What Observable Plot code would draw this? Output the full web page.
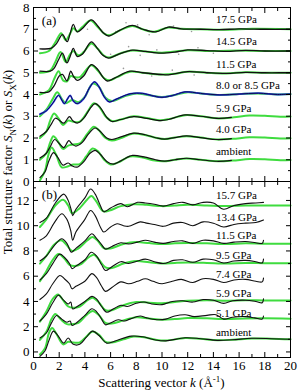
<!DOCTYPE html>
<html><head><meta charset="utf-8">
<script src="https://cdn.jsdelivr.net/npm/d3@7"></script>
<script src="https://cdn.jsdelivr.net/npm/@observablehq/plot@0.6"></script>
<style>
body{margin:0;background:#fff;}
#wrap{position:relative;width:298px;height:391px;font-family:"Liberation Serif",serif;overflow:hidden;background:#fff}
#wrap svg{position:absolute;left:0;overflow:visible}
#wrap svg, #wrap svg text{font-family:"Liberation Serif",serif !important}
#ytitle{position:absolute;left:-142px;top:154px;width:300px;height:16px;line-height:16px;text-align:center;font-size:13px;transform:rotate(-90deg);transform-origin:50% 50%;white-space:nowrap}
#xtitle{position:absolute;left:33px;top:375px;width:257px;line-height:15px;text-align:center;font-size:13px;white-space:nowrap}
sub,sup{font-size:9px;line-height:0}
</style></head><body><div id="wrap"><div id="ytitle">Total structure factor <i>S</i><sub>N</sub>(<i>k</i>) or <i>S</i><sub>X</sub>(<i>k</i>)</div><div id="xtitle">Scattering vector <i>k</i> (Å<sup>-1</sup>)</div></div>
<script>
// ---------- panel (a) data: [k, S(k)+offset] ----------
const a_amb_green = [[0.5,0.05],[0.9,0.5],[1.15,1.2],[1.4,1.56],[1.75,1.25],[2.2,0.65],[2.7,0.7],[3.1,0.78],[3.6,0.8],[4.1,1.15],[4.6,1.52],[5.0,1.4],[5.5,1.0],[6.0,0.78],[6.6,0.88],[7.5,1.15],[8.4,1.12],[9.3,0.98],[10.1,0.93],[11.0,1.0],[11.9,1.06],[13.0,1.0],[14.3,0.93],[15.5,0.96],[16.8,1.03],[18.0,1.02],[19.2,0.98],[20,0.99]];
const a_amb_black = [[0.5,0.18],[0.9,0.45],[1.2,0.95],[1.55,1.33],[1.9,1.1],[2.3,0.75],[2.7,0.85],[3.0,0.72],[3.4,0.66],[3.9,0.9],[4.4,1.3],[4.8,1.43],[5.2,1.25],[5.7,0.92],[6.2,0.8],[6.8,0.95],[7.7,1.2],[8.6,1.13],[9.5,1.0],[10.2,0.94],[11.0,1.0],[11.9,1.07],[13.0,1.0],[14.3,0.93],[15.4,0.97]];
const a_40_green = [[0.5,1.0],[1.0,1.3],[1.3,1.8],[1.55,2.08],[1.9,1.85],[2.3,1.5],[2.7,1.65],[3.1,1.7],[3.6,1.75],[4.2,2.2],[4.7,2.52],[5.1,2.35],[5.6,2.0],[6.1,1.88],[6.8,2.0],[7.7,2.2],[8.6,2.15],[9.6,2.0],[10.2,1.95],[11.0,2.02],[11.9,2.08],[13.0,2.02],[14.3,1.93],[15.5,1.96],[16.8,2.03],[18.0,2.02],[19.2,1.98],[20,1.99]];
const a_40_black = [[0.5,1.08],[1.0,1.3],[1.3,1.6],[1.65,1.93],[2.0,1.75],[2.35,1.56],[2.75,1.88],[3.0,1.72],[3.3,1.63],[3.8,1.8],[4.3,2.2],[4.8,2.46],[5.2,2.3],[5.7,2.0],[6.1,1.93],[6.8,2.05],[7.8,2.22],[8.7,2.15],[9.6,2.0],[10.2,1.95],[11.0,2.02],[11.9,2.1],[13.0,2.02],[14.3,1.93],[15.4,1.97]];
const a_59_green = [[0.5,2.0],[1.0,2.3],[1.3,2.8],[1.6,3.13],[1.95,2.9],[2.3,2.6],[2.7,2.8],[3.1,2.75],[3.6,2.75],[4.2,3.2],[4.7,3.6],[5.1,3.45],[5.6,3.0],[6.1,2.78],[6.8,2.85],[7.8,3.0],[8.8,2.92],[9.9,2.82],[10.6,2.88],[11.8,3.05],[13.0,3.0],[14.4,2.9],[15.6,2.95],[16.8,3.03],[18.0,3.02],[19.2,2.98],[20,2.99]];
const a_59_black = [[0.5,2.08],[1.0,2.3],[1.35,2.6],[1.7,2.91],[2.0,2.82],[2.35,2.68],[2.8,2.98],[3.05,2.8],[3.4,2.68],[3.9,2.9],[4.4,3.35],[4.8,3.58],[5.2,3.4],[5.7,2.95],[6.1,2.76],[6.8,2.85],[7.8,2.98],[8.8,2.9],[9.9,2.8],[10.5,2.85],[11.8,3.06],[13.0,3.0],[14.4,2.9],[15.4,2.95]];
const a_80_green = [[0.5,3.0],[1.0,3.3],[1.5,3.8],[1.85,4.1],[2.2,3.8],[2.5,3.6],[3.0,3.75],[3.5,3.65],[4.0,3.9],[4.6,4.5],[5.1,4.35],[5.6,3.85],[6.1,3.7],[7.0,3.9],[8.0,4.05],[9.0,3.97],[10.0,3.88],[11.0,3.98],[12,4.1],[13,4.05],[14.5,3.98],[16,4.02],[17.5,4.05],[19,4.0],[20,4.02]];
const a_80_blue = [[0.5,3.1],[1.0,3.25],[1.5,3.6],[1.95,3.96],[2.2,3.75],[2.4,3.58],[2.65,3.8],[2.85,3.96],[3.1,3.7],[3.4,3.58],[3.9,3.8],[4.35,4.3],[4.75,4.58],[5.1,4.35],[5.5,3.9],[5.9,3.66],[6.5,3.8],[7.5,4.03],[8.5,4.05],[9.2,3.95],[10.0,3.87],[10.8,3.95],[11.8,4.12],[13.0,4.05],[14.5,3.98],[16.0,4.02],[17.5,4.06],[19.0,4.0],[20,4.02]];
const a_115_green = [[0.5,4.0],[1.2,4.2],[1.6,4.7],[1.95,5.07],[2.3,4.65],[2.6,4.6],[2.9,4.85],[3.2,4.8],[3.6,4.8],[4.5,5.35],[5.0,5.1],[5.5,4.75],[5.9,4.65],[6.5,4.8],[7.5,5.05],[8.5,5.0],[9.9,4.92],[11,4.95],[12.0,5.05],[13.5,5.0],[15,4.97],[16.5,5.02],[18,5.0],[20,5.0]];
const a_115_black = [[0.5,4.1],[1.2,4.12],[1.6,4.4],[2.0,4.85],[2.25,4.92],[2.6,4.63],[2.9,5.07],[3.1,4.85],[3.4,4.65],[3.9,4.85],[4.5,5.37],[5.0,5.15],[5.4,4.8],[5.75,4.62],[6.3,4.75],[7.5,5.07],[8.5,5.0],[9.9,4.92],[10.5,4.9],[12.0,5.05],[13.5,5.0],[15.0,4.97],[16.5,5.02],[18.0,5.0],[19.5,5.0],[20,5.0]];
const a_145_green = [[0.5,5.0],[1.3,5.1],[1.7,5.5],[2.1,5.95],[2.5,5.5],[2.85,5.85],[3.1,6.0],[3.5,5.8],[3.9,5.95],[4.5,6.35],[5.0,6.1],[5.5,5.78],[5.9,5.7],[6.8,5.9],[7.7,6.02],[8.7,5.98],[10,5.92],[12,6.03],[14,6.0],[16,6.02],[18,6.0],[20,6.0]];
const a_145_black = [[0.5,5.07],[1.3,5.07],[1.6,5.2],[1.95,5.6],[2.25,5.9],[2.6,5.45],[2.85,5.75],[3.1,6.12],[3.4,5.75],[3.8,5.85],[4.5,6.42],[5.0,6.1],[5.4,5.8],[5.85,5.67],[6.6,5.85],[7.7,6.04],[8.7,5.98],[9.9,5.9],[11,5.95],[12.0,6.05],[13.5,6.02],[15,5.98],[16.5,6.03],[18,6.0],[20,6.0]];
const a_175_green = [[0.5,5.9],[1.2,6.0],[1.7,6.4],[2.15,6.82],[2.5,6.5],[2.85,6.8],[3.1,7.05],[3.4,6.9],[3.8,7.1],[4.45,7.4],[5.0,7.1],[5.5,6.8],[5.9,6.72],[6.8,6.97],[7.7,7.15],[8.5,7.0],[9.3,6.88],[10.5,7.08],[11.5,7.02],[13,7.0],[15,6.98],[17,7.02],[20,7.0]];
const a_175_black = [[0.5,6.1],[1.4,6.13],[1.8,6.35],[2.25,6.75],[2.62,6.43],[2.85,6.8],[3.1,7.22],[3.4,6.88],[3.8,7.03],[4.5,7.43],[5.0,7.15],[5.4,6.85],[5.85,6.69],[6.7,6.95],[7.7,7.18],[8.5,7.0],[9.5,6.88],[10.5,7.1],[11.5,7.02],[13,7.0],[14.5,6.98],[16,7.02],[18,7.0],[20,7.0]];
const a_grey_pts = [[5.3,6.95],[6.4,6.9],[7.2,7.3],[8.1,7.2],[9.0,6.75],[10.9,7.15],[12.3,6.9],[4.2,7.0],[6.0,5.85],[7.4,6.2],[8.3,5.8],[9.6,6.05],[11.3,5.85],[12.8,6.15],[14.0,5.9],[7.0,5.2],[9.2,4.85],[10.8,5.12],[12.5,4.9]];

// ---------- panel (b) data ----------
const b_amb_green = [[0.5,-0.2],[0.9,0.3],[1.2,1.5],[1.45,1.9],[1.8,1.4],[2.3,0.6],[2.7,0.8],[3.1,0.75],[3.6,0.75],[4.1,1.2],[4.6,1.62],[5.1,1.35],[5.6,0.8],[6.1,0.75],[7.0,1.0],[7.8,1.22],[8.7,1.15],[9.6,0.95],[10.3,0.9],[11.8,1.1],[13,1.04],[14.3,0.93],[15.5,0.97],[17,1.07],[18.5,1.05],[20,1.0]];
const b_amb_black = [[0.5,-0.35],[0.9,0.1],[1.2,0.9],[1.55,1.65],[1.9,1.3],[2.35,0.7],[2.7,1.1],[3.1,0.6],[3.6,0.6],[4.1,1.15],[4.6,1.65],[5.1,1.3],[5.7,0.7],[6.3,0.85],[7.6,1.25],[8.5,1.2],[9.5,0.95],[10.3,0.88],[11.8,1.12],[13,1.05],[14.3,0.92],[15.5,0.97],[17,1.08],[18.5,1.05],[20,1.0]];
const b_51_green = [[0.5,0.95],[1.0,1.6],[1.4,2.6],[1.7,3.0],[2.1,2.6],[2.6,2.2],[3.0,2.2],[3.5,2.3],[4.1,2.9],[4.6,3.25],[5.1,2.9],[5.6,2.3],[6.1,2.25],[7.0,2.5],[8.0,2.75],[9.0,2.65],[10,2.55],[11,2.6],[12,2.68],[13.5,2.66],[15,2.6],[16.5,2.65],[18,2.66],[20,2.63]];
const b_51_black = [[0.5,1.1],[1.0,1.5],[1.4,2.3],[1.8,2.89],[2.2,2.6],[2.6,2.35],[2.85,2.45],[3.0,2.1],[3.4,2.35],[4.0,2.9],[4.55,3.42],[4.9,3.2],[5.3,2.6],[5.6,2.15],[6.0,2.3],[6.6,2.55],[7.1,2.45],[7.5,2.6],[8.3,2.85],[8.8,2.7],[9.6,2.55],[10.3,2.6],[11,2.85],[11.8,2.95],[12.5,2.8],[13.5,2.9],[14.2,2.95],[14.8,2.6],[15.5,2.75],[16.5,2.8],[17.2,2.7],[17.8,2.6],[17.9,2.85]];
const b_59_green = [[0.5,2.4],[1.0,3.2],[1.5,4.2],[1.9,4.55],[2.3,4.1],[2.7,3.6],[3.1,3.5],[3.6,3.6],[4.2,4.1],[4.6,4.3],[5.1,3.9],[5.6,3.3],[6.1,3.3],[7.0,3.7],[8.0,3.95],[9.0,3.9],[10,3.85],[11,3.95],[12,4.05],[13.5,4.1],[15,4.06],[16.5,4.1],[18,4.08],[20,4.08]];
const b_59_black = [[0.5,2.45],[1.0,3.0],[1.5,3.9],[1.95,4.5],[2.3,4.15],[2.7,3.8],[2.9,3.95],[3.05,3.4],[3.4,3.6],[4.0,4.0],[4.55,4.4],[4.9,4.2],[5.3,3.6],[5.7,3.15],[6.2,3.4],[6.8,3.7],[7.3,3.6],[8.0,3.85],[8.6,3.95],[9.2,3.8],[10,3.75],[10.8,4.0],[11.6,4.05],[12.4,3.95],[13.2,4.15],[14.0,4.1],[14.8,3.85],[15.5,4.05],[16.5,4.1],[17.3,4.0],[17.8,3.9],[17.9,4.2]];
const b_74_black = [[0.5,4.15],[1.0,4.6],[1.5,5.4],[2.05,6.06],[2.4,5.8],[2.8,5.4],[3.0,5.0],[3.3,5.2],[4.0,5.6],[4.55,6.2],[4.9,5.9],[5.3,5.2],[5.6,4.8],[6.1,5.1],[6.8,5.55],[7.4,5.4],[8.1,5.6],[8.7,5.8],[9.3,5.6],[10,5.4],[10.8,5.6],[11.5,5.75],[12.4,5.5],[13.2,5.8],[14,5.75],[14.8,5.5],[15.6,5.7],[16.5,5.75],[17.3,5.6],[17.8,5.55],[17.9,5.85]];
const b_95_green = [[0.5,5.6],[1.0,6.4],[1.5,7.3],[1.95,7.75],[2.4,7.4],[2.8,6.9],[3.2,6.8],[3.7,6.95],[4.3,7.5],[4.7,7.7],[5.1,7.3],[5.6,6.7],[6.1,6.65],[7.0,7.0],[8.0,7.2],[9.0,7.1],[10,7.0],[11,7.05],[12,7.08],[13.5,7.05],[15,7.0],[16.5,7.05],[18,7.03],[20,7.03]];
const b_95_black = [[0.5,5.7],[1.0,6.2],[1.5,7.0],[2.05,7.75],[2.4,7.5],[2.8,7.0],[3.0,6.6],[3.3,6.8],[4.0,7.3],[4.5,7.9],[4.9,7.6],[5.3,6.9],[5.6,6.45],[6.1,6.75],[6.8,7.15],[7.4,7.0],[8.1,7.2],[8.7,7.35],[9.4,7.15],[10.1,7.0],[10.9,7.25],[11.6,7.3],[12.4,7.1],[13.2,7.35],[14,7.3],[14.8,7.05],[15.6,7.2],[16.5,7.25],[17.3,7.15],[17.8,7.05],[17.9,7.35]];
const b_115_green = [[0.5,7.0],[1.0,7.6],[1.6,8.5],[2.15,8.85],[2.6,8.45],[3.0,8.0],[3.5,8.2],[4.2,8.85],[4.6,9.1],[5.0,8.8],[5.5,8.2],[6.0,8.2],[7.0,8.55],[8.0,8.7],[9.0,8.62],[10,8.55],[11,8.6],[12,8.62],[13.5,8.6],[15,8.55],[16.5,8.6],[18,8.57],[20,8.57]];
const b_115_black = [[0.5,7.2],[1.0,7.6],[1.6,8.4],[2.2,8.97],[2.6,8.6],[2.95,7.9],[3.3,8.2],[4.0,8.8],[4.55,9.36],[4.9,9.0],[5.3,8.5],[5.6,8.15],[6.1,8.35],[6.8,8.65],[7.4,8.55],[8.1,8.7],[8.7,8.85],[9.4,8.7],[10.1,8.6],[10.9,8.75],[11.6,8.8],[12.4,8.6],[13.2,8.85],[14,8.8],[14.8,8.6],[15.6,8.7],[16.5,8.75],[17.3,8.65],[17.8,8.6],[17.9,8.85]];
const b_134_black = [[0.5,8.85],[1.0,9.2],[1.6,10.2],[2.2,10.95],[2.6,10.5],[2.9,9.6],[3.05,8.85],[3.3,9.5],[4.0,10.5],[4.45,11.2],[4.8,10.8],[5.2,9.9],[5.47,9.5],[6.0,9.9],[6.5,10.15],[7.0,10.0],[7.4,9.95],[8.3,10.3],[8.8,10.2],[9.4,10.1],[10.1,9.95],[10.9,10.2],[11.6,10.25],[12.4,10.0],[13.2,10.3],[14,10.2],[14.8,9.9],[15.6,10.1],[16.5,10.2],[17.3,10.25],[17.9,10.45]];
const b_157_green = [[0.5,9.9],[1.0,10.5],[1.7,11.6],[2.3,12.05],[2.7,11.6],[3.0,11.0],[3.5,11.3],[4.2,12.1],[4.5,12.35],[4.9,11.9],[5.4,11.15],[5.9,11.2],[6.8,11.55],[7.8,11.7],[8.8,11.65],[10,11.55],[11,11.6],[12,11.65],[13.5,11.6],[15,11.55],[16.5,11.6],[18,11.6],[20,11.6]];
const b_157_black = [[0.5,10.25],[1.0,10.6],[1.7,11.8],[2.35,12.5],[2.7,12.0],[2.95,11.2],[3.05,10.8],[3.3,11.3],[4.0,12.2],[4.45,12.9],[4.8,12.5],[5.2,11.6],[5.47,11.1],[6.0,11.4],[6.8,11.75],[7.3,11.5],[8.1,11.85],[8.7,11.8],[9.4,11.7],[10.1,11.55],[10.9,11.75],[11.6,11.85],[12.4,11.65],[13.2,11.85],[14,11.8],[14.8,11.3],[15.6,11.6],[16.5,11.75],[17.3,11.8],[17.9,11.85]];

// ---------- labels ----------
const labelsA = ["17.5 GPa","14.5 GPa","11.5 GPa","8.0 or 8.5 GPa","5.9 GPa","4.0 GPa","ambient"];
const labelYA = [7.45,6.42,5.4,4.4,3.35,2.37,1.4];
const labelsB = ["15.7 GPa","13.4 GPa","11.5 GPa","9.5 GPa","7.4 GPa","5.9 GPa","5.1 GPa","ambient"];
const labelYB = [12.4,10.68,9.23,7.64,6.14,4.6,3.07,1.57];
const labelK = 14.2;
const panelLetters = ["(a)","(b)"];
const letterK = 0.65, letterYA = 7.37, letterYB = 12.47;

const majorX = d3.range(0, 21, 2), minorX = d3.range(1, 20, 2);
const majorYA = d3.range(0, 9, 1), minorYA = d3.range(0.5, 8, 1);
const majorYB = d3.range(0, 14, 2), minorYB = d3.range(1, 14, 2);

const GREEN = "#3fdc3f";
const FONT = "'Liberation Serif', serif";

function L(data, stroke, w) {
  return Plot.line(data, {x: d => d[0], y: d => d[1], stroke, strokeWidth: w, curve: "catmull-rom"});
}
function tickAxes(majY, minY, xLabels) {
  const blank = () => "";
  const m = [];
  for (const a of ["top", "bottom"]) {
    m.push(Plot.axisX(majorX, {anchor: a, tickSize: -5, tickFormat: blank, label: null}));
    m.push(Plot.axisX(minorX, {anchor: a, tickSize: -3, tickFormat: blank, label: null}));
  }
  for (const a of ["left", "right"]) {
    m.push(Plot.axisY(majY, {anchor: a, tickSize: -5, tickFormat: blank, label: null}));
    m.push(Plot.axisY(minY, {anchor: a, tickSize: -3, tickFormat: blank, label: null}));
  }
  m.push(Plot.axisY(majY, {anchor: "left", tickSize: 0, tickPadding: 4, label: null, fontSize: 13}));
  if (xLabels) m.push(Plot.axisX(majorX, {anchor: "bottom", tickSize: 0, tickPadding: 3, label: null, fontSize: 13}));
  return m;
}
const style = {fontFamily: FONT, fontSize: "13px", background: "transparent", color: "black"};

const plotA = Plot.plot({
  width: 298, height: 182, marginTop: 7, marginBottom: 1, marginLeft: 33, marginRight: 8,
  x: {domain: [0, 20]}, y: {domain: [0, 8]}, style,
  marks: [
    Plot.dot(a_grey_pts, {x: d => d[0], y: d => d[1], r: 0.8, fill: "#999", stroke: null}),
    L(a_amb_green, GREEN, 2), L(a_40_green, GREEN, 2), L(a_59_green, GREEN, 2),
    L(a_80_green, GREEN, 2), L(a_115_green, GREEN, 2), L(a_145_green, GREEN, 2), L(a_175_green, GREEN, 2),
    L(a_amb_black, "#111", 1.2), L(a_40_black, "#111", 1.2), L(a_59_black, "#111", 1.2),
    L(a_80_blue, "#3344ee", 1.8), L(a_80_blue, "#0a0a50", 1),
    L(a_115_black, "#111", 1.3), L(a_145_black, "#111", 1.3), L(a_175_black, "#111", 1.3),
    Plot.text(labelsA, {x: () => labelK, y: (d, i) => labelYA[i], text: d => d, textAnchor: "start", fontSize: 11}),
    Plot.text([panelLetters[0]], {x: () => letterK, y: () => letterYA, text: d => d, textAnchor: "start", fontSize: 13}),
    ...tickAxes(majorYA, minorYA, false),
    Plot.frame({stroke: "black", strokeWidth: 1})
  ]
});
plotA.style.top = "0px";

const plotB = Plot.plot({
  width: 298, height: 211, marginTop: 1, marginBottom: 34, marginLeft: 33, marginRight: 8,
  x: {domain: [0, 20]}, y: {domain: [-0.44, 13.5]}, style,
  marks: [
    L(b_amb_green, GREEN, 2), L(b_51_green, GREEN, 2), L(b_59_green, GREEN, 2),
    L(b_95_green, GREEN, 2), L(b_115_green, GREEN, 2), L(b_157_green, GREEN, 2),
    L(b_amb_black, "#111", 1.1), L(b_51_black, "#111", 1.1), L(b_59_black, "#111", 1.1),
    L(b_74_black, "#111", 1.1), L(b_95_black, "#111", 1.1), L(b_115_black, "#111", 1.1),
    L(b_134_black, "#111", 1.1), L(b_157_black, "#111", 1.1),
    Plot.text(labelsB, {x: () => labelK, y: (d, i) => labelYB[i], text: d => d, textAnchor: "start", fontSize: 11}),
    Plot.text([panelLetters[1]], {x: () => letterK, y: () => letterYB, text: d => d, textAnchor: "start", fontSize: 13}),
    ...tickAxes(majorYB, minorYB, true),
    Plot.frame({stroke: "black", strokeWidth: 1})
  ]
});
plotB.style.top = "180px";

const wrap = document.getElementById("wrap");
wrap.insertBefore(plotB, wrap.firstChild);
wrap.insertBefore(plotA, wrap.firstChild);
</script></body></html>
